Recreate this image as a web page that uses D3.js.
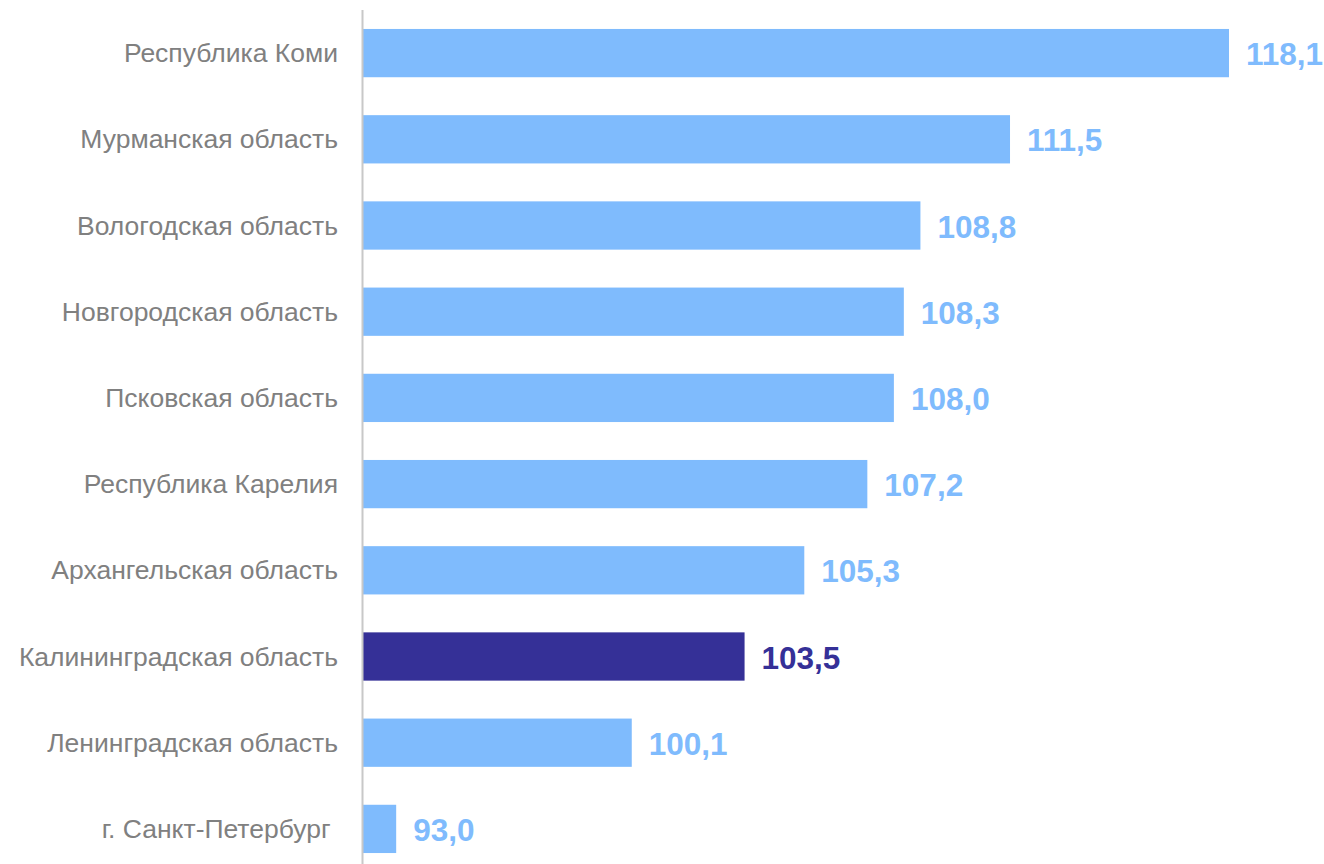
<!DOCTYPE html>
<html><head><meta charset="utf-8">
<script src="https://cdn.jsdelivr.net/npm/d3@7"></script>
<style>body{margin:0;background:#fff}svg{display:block}</style>
</head><body>
<svg id="c" width="1324" height="864"></svg>
<script>
const categories = ["Республика Коми","Мурманская область","Вологодская область","Новгородская область","Псковская область","Республика Карелия","Архангельская область","Калининградская область","Ленинградская область","г. Санкт-Петербург "];
const values = [118.1,111.5,108.8,108.3,108.0,107.2,105.3,103.5,100.1,93.0];
const highlight = "Калининградская область";

const svg = d3.select("#c");
const x = d3.scaleLinear().domain([92, 118.1]).range([363, 1229]);
const y = d3.scaleBand().domain(categories).range([10, 872]).paddingInner(0.44).paddingOuter(0.22);
const light = "#7fbbfd", dark = "#353097";
const font = "'Liberation Sans', Arial, sans-serif";

svg.selectAll("rect.bar").data(values).join("rect")
  .attr("x", x(92)).attr("y", (d,i)=>y(categories[i]))
  .attr("width", d=>x(d)-x(92)).attr("height", y.bandwidth())
  .attr("fill", (d,i)=>categories[i]===highlight?dark:light);

svg.append("line").attr("x1",362.5).attr("x2",362.5).attr("y1",10).attr("y2",864)
  .attr("stroke","#c8c8c8").attr("stroke-width",2);

svg.selectAll("text.cat").data(categories).join("text")
  .attr("x", 338).attr("y", d=>y(d)+y.bandwidth()/2)
  .attr("text-anchor","end").attr("dominant-baseline","central")
  .attr("font-family",font).attr("font-size",26.5)
  .attr("fill","#808080").style("white-space","pre").text(d=>d);

svg.selectAll("text.val").data(values).join("text")
  .attr("x", d=>x(d)+17).attr("y",(d,i)=>y(categories[i])+y.bandwidth()/2+1)
  .attr("dominant-baseline","central")
  .attr("font-family",font).attr("font-size",31.5).attr("font-weight","bold")
  .attr("fill",(d,i)=>categories[i]===highlight?dark:light)
  .text(d=>d.toFixed(1).replace(".",","));
</script>
</body></html>
